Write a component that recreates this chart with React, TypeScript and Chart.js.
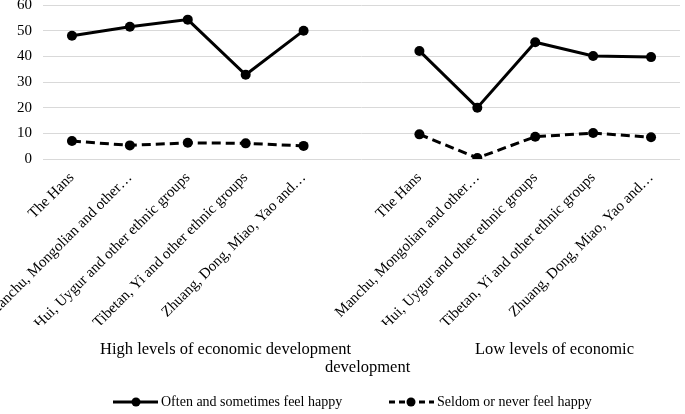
import React, { useEffect, useRef } from "react";
import { Chart, registerables } from "chart.js";

Chart.register(...registerables);

const categories = [
  "The Hans",
  "Manchu, Mongolian and other…",
  "Hui, Uygur and other ethnic groups",
  "Tibetan, Yi and other ethnic groups",
  "Zhuang, Dong, Miao, Yao and…",
];
const groups = ["High levels of economic development", "Low levels of economic development"];
const seriesNames = ["Often and sometimes feel happy", "Seldom or never feel happy"];

const highOften = [48, 51.5, 54.3, 32.8, 50];
const highSeldom = [7, 5.3, 6.3, 6.1, 5.1];
const lowOften = [42.1, 20, 45.5, 40.1, 39.7];
const lowSeldom = [9.6, 0.4, 8.7, 10.1, 8.5];

const yTicks = [0, 10, 20, 30, 40, 50, 60];

const FONT = "'Liberation Serif', 'Times New Roman', serif";

export default function App() {
  const ref = useRef<HTMLCanvasElement>(null);

  useEffect(() => {
    if (!ref.current) return;
    const labels = [...categories, "", ...categories];
    const often = [...highOften, null, ...lowOften];
    const seldom = [...highSeldom, null, ...lowSeldom];

    const overlay = {
      id: "overlay",
      afterDraw(chart: any) {
        const ctx = chart.ctx as CanvasRenderingContext2D;
        ctx.save();
        ctx.fillStyle = "#000";
        ctx.font = `16.5px ${FONT}`;
        ctx.textBaseline = "middle";
        ctx.textAlign = "left";
        ctx.fillText(groups[0], 100, 350);
        const g2 = groups[1];
        const cut = g2.lastIndexOf(" ");
        ctx.fillText(g2.slice(0, cut), 475, 350);
        ctx.fillText(g2.slice(cut + 1), 325, 368);

        const drawItem = (x0: number, x1: number, xm: number, tx: number, dashed: boolean, text: string) => {
          const y = 402;
          ctx.strokeStyle = "#000";
          ctx.lineWidth = 3;
          ctx.setLineDash(dashed ? [6, 4] : []);
          ctx.beginPath();
          ctx.moveTo(x0, y);
          ctx.lineTo(x1, y);
          ctx.stroke();
          ctx.setLineDash([]);
          ctx.beginPath();
          ctx.arc(xm, y, 4.5, 0, Math.PI * 2);
          ctx.fill();
          ctx.font = `14px ${FONT}`;
          ctx.fillText(text, tx, y);
        };
        drawItem(113, 158, 136, 161, false, seriesNames[0]);
        drawItem(389, 434, 411, 437, true, seriesNames[1]);
        ctx.restore();
      },
    };

    const chart = new Chart(ref.current, {
      type: "line",
      data: {
        labels,
        datasets: [
          {
            label: seriesNames[0],
            data: often,
            borderColor: "#000",
            backgroundColor: "#000",
            borderWidth: 3,
            pointRadius: 5,
            pointBorderWidth: 0,
            pointBackgroundColor: "#000",
            spanGaps: false,
            tension: 0,
          },
          {
            label: seriesNames[1],
            data: seldom,
            borderColor: "#000",
            backgroundColor: "#000",
            borderWidth: 3,
            borderDash: [9, 5],
            pointRadius: 5,
            pointBorderWidth: 0,
            pointBackgroundColor: "#000",
            spanGaps: false,
            tension: 0,
          },
        ],
      },
      options: {
        animation: false,
        responsive: true,
        maintainAspectRatio: false,
        layout: { padding: { top: 5, right: -2, bottom: 89, left: 0 } },
        plugins: { legend: { display: false }, tooltip: { enabled: false } },
        scales: {
          x: {
            offset: true,
            grid: { display: false },
            border: { display: false },
            ticks: {
              autoSkip: false,
              maxRotation: 45,
              minRotation: 45,
              color: "#000",
              padding: 2,
              font: { family: FONT, size: 15 },
            },
            afterFit(scale: any) {
              scale.height = 166;
              scale.paddingLeft = 0;
              scale.paddingRight = 0;
            },
          },
          y: {
            min: 0,
            max: 60,
            afterBuildTicks(scale: any) {
              scale.ticks = yTicks.map((v) => ({ value: v }));
            },
            grid: { color: "#d9d9d9", lineWidth: 1, drawTicks: false },
            border: { display: false },
            ticks: {
              color: "#000",
              padding: 11,
              font: { family: FONT, size: 15 },
            },
            afterFit(scale: any) {
              scale.width = 43;
              scale.paddingTop = 0;
              scale.paddingBottom = 0;
            },
          },
        },
      },
      plugins: [overlay],
    });
    return () => chart.destroy();
  }, []);

  return (
    <div style={{ position: "fixed", left: 0, top: 0, width: 685, height: 414 }}>
      <canvas ref={ref} />
    </div>
  );
}
